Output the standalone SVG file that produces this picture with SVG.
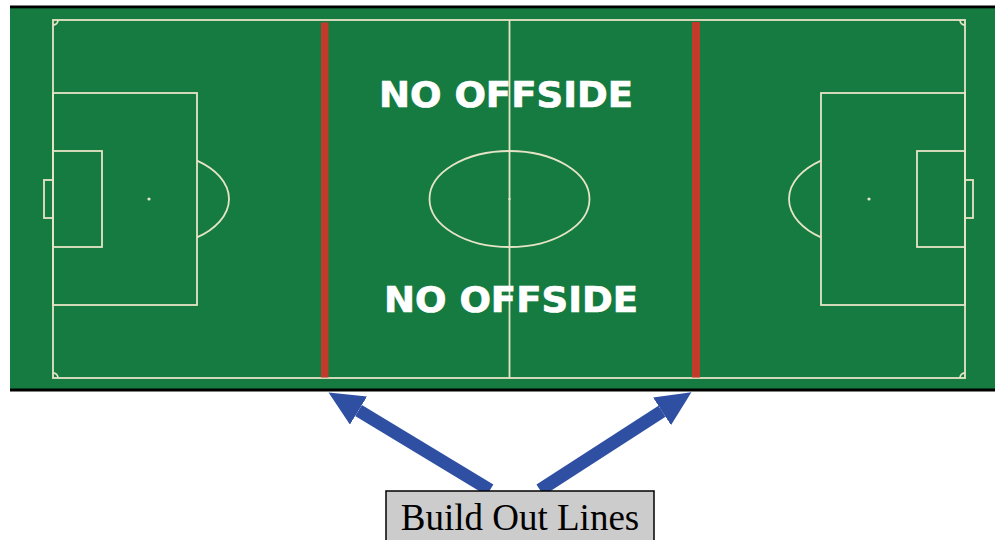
<svg xmlns="http://www.w3.org/2000/svg" width="995" height="540" viewBox="0 0 995 540">
  <defs>
    <style>
      .ln { fill: none; stroke: #e6e4c6; stroke-width: 1.8; }
      .spot { fill: #e6e4c6; }
      .red { fill: #c23a2b; }
      .nooff { font-family: "DejaVu Sans", Verdana, sans-serif; font-weight: bold; font-size: 36px; fill: #ffffff; stroke: #ffffff; stroke-width: 0.7; }
      .lbl { font-family: "Liberation Serif", "Times New Roman", serif; font-size: 37px; fill: #000000; }
      .arrow { stroke: #2f4fa3; stroke-width: 13; fill: none; }
    </style>
    <marker id="head" markerUnits="userSpaceOnUse" markerWidth="36" markerHeight="34" refX="0" refY="16.5" orient="auto" viewBox="0 0 36 34">
      <path d="M0,0 L35,16.5 L0,33 z" fill="#2f4fa3"/>
    </marker>
  </defs>

  <g id="pitch">
    <rect x="10" y="8" width="985" height="381" fill="#167b40"/>
    <rect x="10" y="5.5" width="985" height="2.8" fill="#000"/>
    <rect x="10" y="388.5" width="985" height="3" fill="#000"/>
    <rect class="ln" x="53" y="20" width="912" height="358"/>
    <line class="ln" x1="509.5" y1="20" x2="509.5" y2="378" stroke-width="2.2"/>
    <ellipse class="ln" cx="509.5" cy="199" rx="80" ry="48"/>
    <circle class="spot" cx="509.5" cy="199" r="1.2"/>
    <rect class="ln" x="53" y="93" width="144" height="212"/>
    <rect class="ln" x="53" y="151" width="49" height="96"/>
    <rect class="ln" x="44" y="180" width="9" height="38"/>
    <circle class="spot" cx="149" cy="199" r="1.6"/>
    <path class="ln" d="M197,160.6 A80,48 0 0 1 197,237.4"/>
    <rect class="ln" x="821" y="93" width="144" height="212"/>
    <rect class="ln" x="917" y="151" width="48" height="96"/>
    <rect class="ln" x="965" y="180" width="8" height="38"/>
    <circle class="spot" cx="869" cy="199" r="1.6"/>
    <path class="ln" d="M821,160.6 A80,48 0 0 0 821,237.4"/>
    <path class="ln" d="M53,25 A5,5 0 0 0 58,20"/>
    <path class="ln" d="M960,20 A5,5 0 0 0 965,25"/>
    <path class="ln" d="M53,373 A5,5 0 0 1 58,378"/>
    <path class="ln" d="M960,378 A5,5 0 0 1 965,373"/>
  </g>

  <g id="build-out-line-left">
    <rect class="red" x="321" y="22.5" width="7.5" height="355"/>
  </g>
  <g id="build-out-line-right">
    <rect class="red" x="692" y="22" width="8" height="355.5"/>
  </g>

  <g id="label-no-offside-top">
    <text class="nooff" x="379" y="107" textLength="254" lengthAdjust="spacingAndGlyphs">NO OFFSIDE</text>
  </g>
  <g id="label-no-offside-bottom">
    <text class="nooff" x="384" y="312" textLength="254" lengthAdjust="spacingAndGlyphs">NO OFFSIDE</text>
  </g>

  <g id="connectors">
    <line class="arrow" x1="490" y1="490" x2="358.5" y2="410.5" marker-end="url(#head)"/>
    <line class="arrow" x1="540" y1="490" x2="662" y2="411.3" marker-end="url(#head)"/>
  </g>

  <g id="build-out-lines-box">
    <rect x="386" y="491" width="268" height="60" fill="#cccccc" stroke="#000" stroke-width="1.5"/>
    <text class="lbl" x="520" y="530" text-anchor="middle">Build Out Lines</text>
  </g>
</svg>
